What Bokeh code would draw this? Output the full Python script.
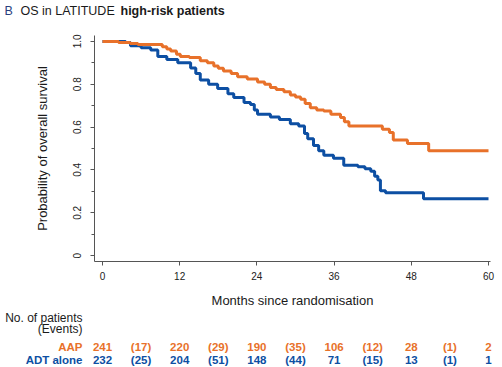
from bokeh.plotting import figure
from bokeh.models import Range1d, FixedTicker, CustomJSTickFormatter
from bokeh.core.properties import value
from bokeh.embed import file_html
from bokeh.resources import INLINE

# ---------------- data ----------------
aap_t = [0, 2.5, 4.3, 5.5, 9.3, 10.0, 10.6, 11.5, 12.1, 13.5, 15.2, 16.3, 17.3, 18.0,
         18.8, 20.0, 21.0, 22.5, 24.1, 25.2, 26.1, 27.0, 28.2, 29.2, 30.0, 30.8, 31.5,
         32.3, 33.3, 34.4, 35.5, 37.0, 37.6, 38.3, 43.5, 44.6, 45.2, 47.4, 50.7, 60]
aap_s = [1.0, 0.995, 0.99, 0.985, 0.975, 0.965, 0.955, 0.94, 0.93, 0.925, 0.91, 0.9,
         0.885, 0.875, 0.862, 0.85, 0.835, 0.825, 0.81, 0.8, 0.785, 0.775, 0.765, 0.75,
         0.74, 0.73, 0.71, 0.69, 0.68, 0.675, 0.66, 0.645, 0.625, 0.605, 0.59, 0.575,
         0.54, 0.523, 0.49, 0.49]

adt_t = [0, 3.6, 4.35, 6.0, 7.5, 8.6, 10.0, 11.7, 13.7, 14.5, 15.2, 16.5, 17.9, 19.5,
         20.4, 22.0, 23.0, 23.6, 24.1, 26.1, 27.5, 29.2, 30.5, 31.4, 31.9, 32.8, 33.6,
         34.4, 35.9, 37.5, 39.7, 40.8, 41.7, 42.3, 42.8, 43.2, 44.0, 49.9, 60]
adt_s = [1.0, 0.995, 0.98, 0.97, 0.96, 0.93, 0.915, 0.9, 0.876, 0.85, 0.82, 0.8, 0.78,
         0.755, 0.738, 0.715, 0.705, 0.68, 0.66, 0.647, 0.635, 0.615, 0.605, 0.57, 0.546,
         0.514, 0.49, 0.468, 0.454, 0.422, 0.415, 0.405, 0.394, 0.37, 0.353, 0.303, 0.294,
         0.265, 0.265]

x_ticks = [0, 12, 24, 36, 48, 60]
y_ticks = [0, 0.2, 0.4, 0.6, 0.8, 1.0]
y_minor = [0.1, 0.3, 0.5, 0.7, 0.9]

risk_times = [0, 6, 12, 18, 24, 30, 36, 42, 48, 54, 60]
aap_risk = ["241", "(17)", "220", "(29)", "190", "(35)", "106", "(12)", "28", "(1)", "2"]
adt_risk = ["232", "(25)", "204", "(51)", "148", "(44)", "71", "(15)", "13", "(1)", "1"]

ORANGE = "#E8712A"
BLUE = "#0D4FA3"
TXT = "#1a1a1a"
FONT = "Liberation Sans"
W = 502


def bare(height, xr, yr):
    f = figure(width=W, height=height, x_range=xr, y_range=yr,
               output_backend="svg", toolbar_location=None,
               x_axis_location=None, y_axis_location=None,
               min_border_left=0, min_border_right=0, min_border_top=0,
               min_border_bottom=0, min_border=0)
    f.xgrid.visible = False
    f.ygrid.visible = False
    f.outline_line_color = None
    return f


def txt(f, x, y, s, size, color, style="normal", align="left"):
    f.text(x=x, y=y, text=s, text_font=value(FONT), text_font_size=size,
           text_font_style=style, text_color=color, text_align=align,
           text_baseline="middle")


# ---------------- title ----------------
t = bare(20, Range1d(0, W), Range1d(20, 0))
txt(t, [4], [10], ["B"], "12.5px", "#2A3F7E")
txt(t, [20], [10], ["OS in LATITUDE"], "12.5px", TXT)
txt(t, [120], [10], ["high-risk patients"], "12.5px", TXT, style="bold")

# ---------------- main plot ----------------
p = figure(width=W, height=290, x_range=Range1d(-1.24, 60.31),
           y_range=Range1d(-0.0275, 1.0275), output_backend="svg",
           toolbar_location=None, min_border_left=94, min_border_right=12,
           min_border_top=15, min_border_bottom=45)
p.xgrid.visible = False
p.ygrid.visible = False
p.outline_line_color = None

p.step(adt_t, adt_s, mode="after", line_width=3, line_color=BLUE)
p.step(aap_t, aap_s, mode="after", line_width=3, line_color=ORANGE)

for ax in (p.xaxis[0], p.yaxis[0]):
    ax.axis_line_color = "#555555"
    ax.axis_line_width = 1
    ax.major_tick_line_color = "#555555"
    ax.minor_tick_line_color = "#555555"
    ax.major_tick_in = 0
    ax.major_tick_out = 4
    ax.minor_tick_in = 0
    ax.minor_tick_out = 3
    ax.major_label_text_font = FONT
    ax.major_label_text_font_size = "10px"
    ax.major_label_text_color = "#222222"
    ax.axis_label_text_font = FONT
    ax.axis_label_text_font_size = "13px"
    ax.axis_label_text_font_style = "normal"
    ax.axis_label_text_color = TXT

p.xaxis.ticker = FixedTicker(ticks=x_ticks)
p.xaxis.major_label_standoff = 6
p.xaxis.axis_label = "Months since randomisation"
p.xaxis.axis_label_standoff = 10

p.yaxis.ticker = FixedTicker(ticks=y_ticks, minor_ticks=y_minor)
p.yaxis.formatter = CustomJSTickFormatter(
    code="return tick == 0 ? '0' : tick.toFixed(1);")
p.yaxis.major_label_orientation = "vertical"
p.yaxis.major_label_standoff = 9
p.yaxis.axis_label = "Probability of overall survival"
p.yaxis.axis_label_standoff = 21

# ---------------- number at risk table ----------------
# same px-per-month as the main plot, frame spanning the full width
r = bare(57, Range1d(-15.851, 62.175), Range1d(57, 0))
LAB_X = -3.105
txt(r, [LAB_X], [7], ["No. of patients"], "12px", TXT, align="right")
txt(r, [LAB_X], [18], ["(Events)"], "12px", TXT, align="right")
txt(r, [LAB_X], [36], ["AAP"], "11.5px", ORANGE, style="bold", align="right")
txt(r, [LAB_X], [49], ["ADT alone"], "11.5px", BLUE, style="bold", align="right")
txt(r, risk_times, [36] * len(risk_times), aap_risk, "11.5px", ORANGE,
    style="bold", align="center")
txt(r, risk_times, [49] * len(risk_times), adt_risk, "11.5px", BLUE,
    style="bold", align="center")

open("out.html", "w").write(file_html([t, p, r], INLINE))
